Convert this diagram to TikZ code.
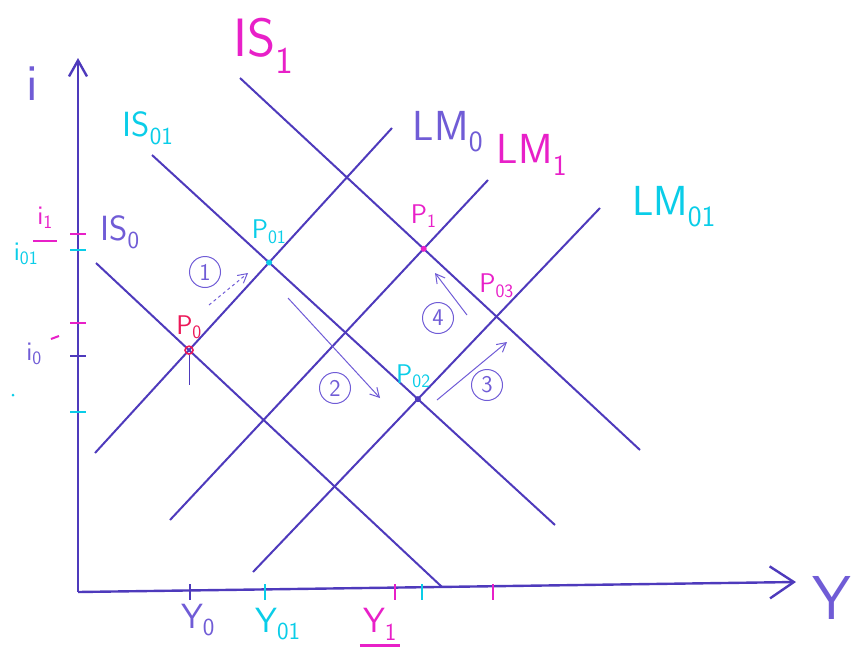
\documentclass[tikz,border=0pt]{standalone}
\usepackage{tikz}
\usetikzlibrary{arrows.meta, positioning, calc}
\definecolor{pen}{RGB}{78,58,188}
\definecolor{penlt}{RGB}{112,92,214}
\definecolor{pink}{RGB}{232,32,200}
\definecolor{sky}{RGB}{10,205,232}
\definecolor{rot}{RGB}{236,24,88}

\begin{document}
\begin{tikzpicture}[x=1pt, y=-1pt,
    every node/.style={font=\sffamily, inner sep=1pt},
    curve/.style={draw=pen, line width=2pt},
    axis/.style={draw=pen, line width=2.4pt},
    tickmark/.style={line width=2.4pt},
    hugetxt/.style={font=\sffamily\fontsize{54}{58}\selectfont},
    bigtxt/.style={font=\sffamily\fontsize{42}{46}\selectfont},
    midtxt/.style={font=\sffamily\fontsize{35}{38}\selectfont},
    plbl/.style={font=\sffamily\fontsize{27}{30}\selectfont},
    eq/.style={circle, fill=#1, minimum size=6pt, inner sep=0pt},
    stepnum/.style={circle, draw=penlt, text=penlt, line width=1pt, minimum size=31pt, inner sep=0pt, font=\sffamily\fontsize{24}{26}\selectfont},
    move/.style={draw=penlt, line width=1pt, -{Straight Barb[length=9pt, width=10pt]}}
]
\useasboundingbox (0,0) rectangle (860,667);

% axes
\coordinate (O) at (78,592);
\coordinate (itop) at (78,58);
\coordinate (yend) at (796,582);
\draw[axis, -{Straight Barb[length=16pt, width=18pt]}] (O) -- (itop);
\draw[axis, -{Straight Barb[length=24pt, width=32pt]}] (O) -- (yend);
\node[penlt, font=\sffamily\fontsize{52}{56}\selectfont] (ilbl) at (32,84) {i};
\node[penlt, font=\sffamily\fontsize{62}{66}\selectfont] (ylbl) at (832,598) {Y};

% ticks on both axes
\foreach \y/\c in {234/pink, 250/sky, 323/pink, 356/pen, 412/sky}{
    \draw[tickmark, \c] (70,\y) -- (86,\y);
}
\foreach \x/\c in {190/pen, 265/sky, 395/pink, 422/sky, 493/pink}{
    \draw[tickmark, \c] (\x,584) -- (\x,600);
}

% IS and LM curves
\foreach \n/\xa/\ya/\xb/\yb in {is0/96/263/442/587, is01/152/155/555/525, is1/240/78/640/450,
                               lm0/95/453/392/128, lm1/170/520/488/180, lm01/253/572/600/208}{
    \coordinate (\n-s) at (\xa,\ya);
    \coordinate (\n-e) at (\xb,\yb);
    \draw[curve] (\n-s) -- (\n-e);
}
\node[hugetxt, pink] (is1lbl) at (264,46) {IS\textsubscript{1}};
\node[midtxt, sky] (is01lbl) at (148,128) {IS\textsubscript{01}};
\node[midtxt, penlt] (is0lbl) at (120,232) {IS\textsubscript{0}};
\node[bigtxt, penlt] (lm0lbl) at (448,132) {LM\textsubscript{0}};
\node[bigtxt, pink] (lm1lbl) at (532,155) {LM\textsubscript{1}};
\node[bigtxt, sky] (lm01lbl) at (674,207) {LM\textsubscript{01}};

% equilibria
\coordinate (p0) at (intersection of is0-s--is0-e and lm0-s--lm0-e);
\coordinate (p01) at (intersection of is01-s--is01-e and lm0-s--lm0-e);
\coordinate (p1) at (intersection of is1-s--is1-e and lm1-s--lm1-e);
\coordinate (p02) at (intersection of is01-s--is01-e and lm01-s--lm01-e);
\coordinate (p03) at (intersection of is1-s--is1-e and lm01-s--lm01-e);
\node[circle, draw=rot, line width=1.6pt, minimum size=8pt, inner sep=0pt] (p0dot) at (p0) {};
\node[eq=sky] (p01dot) at (p01) {};
\node[eq=pink] (p1dot) at (p1) {};
\node[eq=pen] (p02dot) at (p02) {};
\node[plbl, rot, above=10pt] at (p0) {P\textsubscript{0}};
\node[plbl, sky, above=18pt] at (p01) {P\textsubscript{01}};
\node[plbl, pink, above=20pt] at (p1) {P\textsubscript{1}};
\node[plbl, sky, above left=10pt and -14pt] at (p02) {P\textsubscript{02}};
\node[plbl, pink, above=18pt] at (p03) {P\textsubscript{03}};
\draw[pen, line width=1pt] (p0dot.south) -- ++(0,30);

% adjustment steps
\foreach \k/\x/\y/\xa/\ya/\xb/\yb in {1/205/272/209/305/248/273, 2/335/388/288/298/380/398,
                                     3/487/385/437/400/507/342, 4/438/318/467/315/435/273}{
    \node[stepnum] (c\k) at (\x,\y) {\k};
    \coordinate (m\k-s) at (\xa,\ya);
    \coordinate (m\k-e) at (\xb,\yb);
}
\draw[move, dashed] (m1-s) -- (m1-e);
\foreach \k in {2,3,4}{
    \draw[move] (m\k-s) -- (m\k-e);
}

% axis labels
\node[midtxt, penlt] (y0lbl) at (198,620) {Y\textsubscript{0}};
\node[midtxt, sky] (y01lbl) at (278,624) {Y\textsubscript{01}};
\node[midtxt, pink] (y1lbl) at (380,624) {Y\textsubscript{1}};
\draw[pink, line width=2.6pt] ($(y1lbl.south west)+(-2,4)$) -- ($(y1lbl.south east)+(2,4)$);
\node[plbl, penlt] (i0lbl) at (34,354) {i\textsubscript{0}};
\draw[pink, line width=2pt] (51,339) -- (59,336);
\node[plbl, pink] (i1lbl) at (45,218) {i\textsubscript{1}};
\draw[pink, line width=2.6pt] (33,241) -- (57,241);
\node[plbl, sky] (i01lbl) at (26,254) {i\textsubscript{01}};
\fill[sky] (13,395) circle (1.5pt);
\end{tikzpicture}
\end{document}
